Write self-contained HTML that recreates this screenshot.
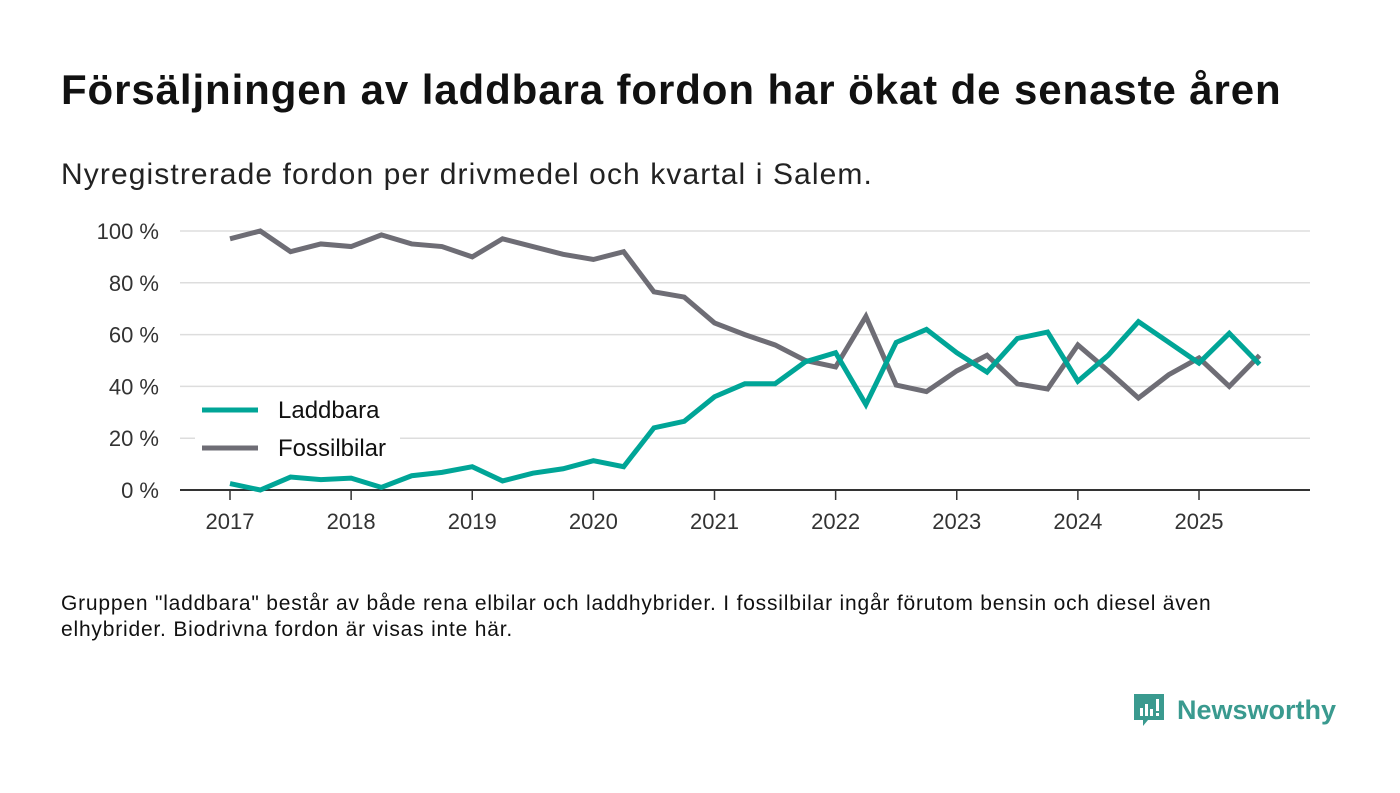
<!DOCTYPE html>
<html><head><meta charset="utf-8"><style>
body{margin:0;width:1400px;height:793px;background:#fff;font-family:"Liberation Sans",sans-serif;overflow:hidden}
#title{position:absolute;left:61px;top:66px;font-size:42px;letter-spacing:0.9px;font-weight:bold;color:#111;margin:0}
#sub{position:absolute;left:61px;top:158px;font-size:30px;letter-spacing:1.1px;color:#222}
#note{position:absolute;left:61px;top:591px;font-size:21px;letter-spacing:0.8px;color:#111;line-height:26px;width:1240px}
#logo{position:absolute;left:1132px;top:690px}
</style></head><body>
<h1 id="title">Försäljningen av laddbara fordon har ökat de senaste åren</h1>
<div id="sub">Nyregistrerade fordon per drivmedel och kvartal i Salem.</div>
<svg id="chart" width="1400" height="793" style="position:absolute;left:0;top:0"></svg>
<div id="note">Gruppen "laddbara" består av både rena elbilar och laddhybrider. I fossilbilar ingår förutom bensin och diesel även elhybrider. Biodrivna fordon är visas inte här.</div>
<div id="logo">
<svg width="210" height="46"><path d="M2 4h30v26H16l-5 6v-6H2z" fill="#3a9a8f"/><rect x="8" y="18" width="3" height="8" fill="#fff"/><rect x="13" y="14" width="3" height="12" fill="#fff"/><rect x="18" y="19" width="3" height="7" fill="#fff"/><rect x="24" y="9" width="3" height="12" fill="#fff"/><rect x="24" y="23" width="3" height="3" fill="#fff"/>
<text x="45" y="29" font-family="Liberation Sans" font-size="27" font-weight="bold" fill="#3a9a8f">Newsworthy</text></svg></div>
<script>
const quarters=35;
const laddbara=[2.5,0,5,4,4.6,1,5.5,6.8,9,3.5,6.5,8.2,11.3,9,24,26.5,36,41,41,49.5,53,33,57,62,53,45.5,58.5,61,42,52,65,57,49,60.5,48.5];
const fossil=[97,100,92,95,94,98.5,95,94,90,97,94,91,89,92,76.5,74.5,64.5,60,56,50,47.5,67,40.5,38,46,52,41,39,56,46,35.5,44.5,51,40,52];
const yTicks=[0,20,40,60,80,100];
const years=[2017,2018,2019,2020,2021,2022,2023,2024,2025];
const NS="http://www.w3.org/2000/svg",svg=document.getElementById('chart');
const x=q=>230+q*(1199-230)/32, y=v=>490-v*2.59;
function mk(t,a){const e=document.createElementNS(NS,t);for(const k in a)e.setAttribute(k,a[k]);svg.appendChild(e);return e;}
yTicks.forEach(v=>{
 if(v>0){const g=mk('line',{x1:180,x2:1310,y1:y(v),y2:y(v),stroke:'#ddd','stroke-width':1.5});
 
 }
 const t=mk('text',{x:159,y:y(v)+8,'text-anchor':'end','font-size':22,fill:'#333','font-family':'Liberation Sans'});t.textContent=v+' %';
 
 
});
const ax=mk('line',{x1:180,x2:1310,y1:490,y2:490,stroke:'#333','stroke-width':2});


years.forEach((yr,i)=>{const xx=x(i*4);
 const tk=mk('line',{x1:xx,x2:xx,y1:490,y2:500,stroke:'#333','stroke-width':1.5});
 
 
 const t=mk('text',{x:xx,y:529,'text-anchor':'middle','font-size':22,fill:'#333','font-family':'Liberation Sans'});t.textContent=yr;
 
 
});
function line(d,c,n){const p=mk('polyline',{points:d.map((v,i)=>x(i)+','+y(v)).join(' '),fill:'none',stroke:c,'stroke-width':5,'stroke-linejoin':'miter'});
 
 }
line(fossil,'#6e6d75','fossilbilar-line');
line(laddbara,'#00a597','laddbara-line');
const lb=mk('rect',{x:195,y:393,width:205,height:74,fill:'#fff'});


[['Laddbara','#00a597',410],['Fossilbilar','#6e6d75',448]].forEach(([n,c,yy])=>{
 const l=mk('line',{x1:202,x2:258,y1:yy,y2:yy,stroke:c,'stroke-width':5});
 
 
 const t=mk('text',{x:278,y:yy+8,'font-size':24,fill:'#111','font-family':'Liberation Sans'});t.textContent=n;
 
 
});
</script>
</body></html>
